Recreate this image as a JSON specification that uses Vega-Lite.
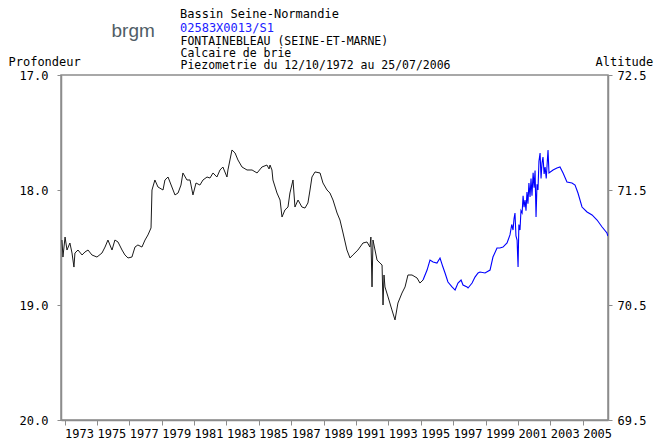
{
  "$schema": "https://vega.github.io/schema/vega-lite/v6.json",
  "width": 547,
  "height": 345,
  "autosize": {"type": "none"},
  "padding": {"left": 61, "top": 75, "right": 50, "bottom": 22},
  "background": "white",
  "config": {
    "view": {"stroke": "#8c8c8c", "strokeWidth": 1.5},
    "font": "DejaVu Sans Mono"
  },
  "title": {
    "text": "Bassin Seine-Normandie",
    "subtitle": "02583X0013/S1",
    "anchor": "start",
    "frame": "group",
    "dx": 119,
    "dy": 16,
    "offset": 2,
    "font": "DejaVu Sans Mono",
    "fontSize": 12,
    "fontWeight": "normal",
    "color": "black",
    "subtitleFont": "DejaVu Sans Mono",
    "subtitleFontSize": 12,
    "subtitleColor": "#2020ff",
    "subtitlePadding": 2
  },
  "data": {
    "values": [
      {"s": "a", "t": 1972.84, "d": 18.435},
      {"s": "a", "t": 1972.90, "d": 18.583},
      {"s": "a", "t": 1973.03, "d": 18.409},
      {"s": "a", "t": 1973.15, "d": 18.522},
      {"s": "a", "t": 1973.33, "d": 18.461},
      {"s": "a", "t": 1973.46, "d": 18.548},
      {"s": "a", "t": 1973.58, "d": 18.670},
      {"s": "a", "t": 1973.64, "d": 18.548},
      {"s": "a", "t": 1973.83, "d": 18.522},
      {"s": "a", "t": 1974.08, "d": 18.565},
      {"s": "a", "t": 1974.26, "d": 18.539},
      {"s": "a", "t": 1974.45, "d": 18.522},
      {"s": "a", "t": 1974.69, "d": 18.565},
      {"s": "a", "t": 1975.00, "d": 18.583},
      {"s": "a", "t": 1975.31, "d": 18.548},
      {"s": "a", "t": 1975.50, "d": 18.496},
      {"s": "a", "t": 1975.68, "d": 18.435},
      {"s": "a", "t": 1975.93, "d": 18.522},
      {"s": "a", "t": 1976.11, "d": 18.435},
      {"s": "a", "t": 1976.30, "d": 18.452},
      {"s": "a", "t": 1976.55, "d": 18.522},
      {"s": "a", "t": 1976.73, "d": 18.565},
      {"s": "a", "t": 1976.92, "d": 18.591},
      {"s": "a", "t": 1977.16, "d": 18.583},
      {"s": "a", "t": 1977.35, "d": 18.496},
      {"s": "a", "t": 1977.53, "d": 18.478},
      {"s": "a", "t": 1977.78, "d": 18.496},
      {"s": "a", "t": 1977.97, "d": 18.435},
      {"s": "a", "t": 1978.15, "d": 18.391},
      {"s": "a", "t": 1978.34, "d": 18.330},
      {"s": "a", "t": 1978.40, "d": 18.000},
      {"s": "a", "t": 1978.58, "d": 17.913},
      {"s": "a", "t": 1978.77, "d": 17.974},
      {"s": "a", "t": 1979.08, "d": 18.000},
      {"s": "a", "t": 1979.20, "d": 17.913},
      {"s": "a", "t": 1979.39, "d": 17.887},
      {"s": "a", "t": 1979.63, "d": 17.974},
      {"s": "a", "t": 1979.82, "d": 18.043},
      {"s": "a", "t": 1980.01, "d": 18.026},
      {"s": "a", "t": 1980.19, "d": 17.957},
      {"s": "a", "t": 1980.31, "d": 17.852},
      {"s": "a", "t": 1980.56, "d": 17.913},
      {"s": "a", "t": 1980.75, "d": 17.913},
      {"s": "a", "t": 1980.93, "d": 18.043},
      {"s": "a", "t": 1981.12, "d": 17.939},
      {"s": "a", "t": 1981.36, "d": 17.957},
      {"s": "a", "t": 1981.55, "d": 17.913},
      {"s": "a", "t": 1981.80, "d": 17.887},
      {"s": "a", "t": 1981.98, "d": 17.896},
      {"s": "a", "t": 1982.17, "d": 17.852},
      {"s": "a", "t": 1982.41, "d": 17.887},
      {"s": "a", "t": 1982.60, "d": 17.826},
      {"s": "a", "t": 1982.78, "d": 17.800},
      {"s": "a", "t": 1983.03, "d": 17.887},
      {"s": "a", "t": 1983.09, "d": 17.826},
      {"s": "a", "t": 1983.34, "d": 17.652},
      {"s": "a", "t": 1983.53, "d": 17.678},
      {"s": "a", "t": 1983.71, "d": 17.739},
      {"s": "a", "t": 1983.96, "d": 17.800},
      {"s": "a", "t": 1984.27, "d": 17.826},
      {"s": "a", "t": 1984.58, "d": 17.826},
      {"s": "a", "t": 1984.89, "d": 17.852},
      {"s": "a", "t": 1985.19, "d": 17.800},
      {"s": "a", "t": 1985.50, "d": 17.783},
      {"s": "a", "t": 1985.63, "d": 17.817},
      {"s": "a", "t": 1985.69, "d": 17.783},
      {"s": "a", "t": 1985.81, "d": 17.826},
      {"s": "a", "t": 1985.87, "d": 17.913},
      {"s": "a", "t": 1986.12, "d": 18.026},
      {"s": "a", "t": 1986.31, "d": 18.087},
      {"s": "a", "t": 1986.43, "d": 18.235},
      {"s": "a", "t": 1986.61, "d": 18.174},
      {"s": "a", "t": 1986.80, "d": 18.148},
      {"s": "a", "t": 1986.92, "d": 18.026},
      {"s": "a", "t": 1987.11, "d": 17.913},
      {"s": "a", "t": 1987.23, "d": 18.148},
      {"s": "a", "t": 1987.42, "d": 18.087},
      {"s": "a", "t": 1987.66, "d": 18.148},
      {"s": "a", "t": 1987.85, "d": 18.157},
      {"s": "a", "t": 1988.03, "d": 18.113},
      {"s": "a", "t": 1988.16, "d": 18.000},
      {"s": "a", "t": 1988.28, "d": 17.887},
      {"s": "a", "t": 1988.47, "d": 17.843},
      {"s": "a", "t": 1988.78, "d": 17.852},
      {"s": "a", "t": 1988.96, "d": 17.939},
      {"s": "a", "t": 1989.21, "d": 18.000},
      {"s": "a", "t": 1989.39, "d": 18.026},
      {"s": "a", "t": 1989.58, "d": 18.087},
      {"s": "a", "t": 1989.83, "d": 18.200},
      {"s": "a", "t": 1990.01, "d": 18.261},
      {"s": "a", "t": 1990.20, "d": 18.374},
      {"s": "a", "t": 1990.44, "d": 18.522},
      {"s": "a", "t": 1990.63, "d": 18.591},
      {"s": "a", "t": 1990.81, "d": 18.565},
      {"s": "a", "t": 1991.12, "d": 18.522},
      {"s": "a", "t": 1991.43, "d": 18.461},
      {"s": "a", "t": 1991.68, "d": 18.452},
      {"s": "a", "t": 1991.86, "d": 18.496},
      {"s": "a", "t": 1991.92, "d": 18.409},
      {"s": "a", "t": 1991.99, "d": 18.843},
      {"s": "a", "t": 1992.05, "d": 18.435},
      {"s": "a", "t": 1992.30, "d": 18.609},
      {"s": "a", "t": 1992.48, "d": 18.635},
      {"s": "a", "t": 1992.61, "d": 18.652},
      {"s": "a", "t": 1992.67, "d": 19.000},
      {"s": "a", "t": 1992.73, "d": 18.739},
      {"s": "a", "t": 1992.79, "d": 18.843},
      {"s": "a", "t": 1992.98, "d": 18.930},
      {"s": "a", "t": 1993.22, "d": 19.043},
      {"s": "a", "t": 1993.41, "d": 19.130},
      {"s": "a", "t": 1993.59, "d": 18.983},
      {"s": "a", "t": 1993.84, "d": 18.896},
      {"s": "a", "t": 1994.03, "d": 18.843},
      {"s": "a", "t": 1994.21, "d": 18.739},
      {"s": "a", "t": 1994.46, "d": 18.739},
      {"s": "a", "t": 1994.77, "d": 18.765},
      {"s": "a", "t": 1994.95, "d": 18.809},
      {"s": "a", "t": 1995.14, "d": 18.783},
      {"s": "b", "t": 1995.14, "d": 18.783},
      {"s": "b", "t": 1995.39, "d": 18.696},
      {"s": "b", "t": 1995.57, "d": 18.609},
      {"s": "b", "t": 1995.76, "d": 18.626},
      {"s": "b", "t": 1996.00, "d": 18.635},
      {"s": "b", "t": 1996.19, "d": 18.591},
      {"s": "b", "t": 1996.37, "d": 18.670},
      {"s": "b", "t": 1996.50, "d": 18.722},
      {"s": "b", "t": 1996.68, "d": 18.800},
      {"s": "b", "t": 1996.93, "d": 18.843},
      {"s": "b", "t": 1997.12, "d": 18.870},
      {"s": "b", "t": 1997.30, "d": 18.809},
      {"s": "b", "t": 1997.49, "d": 18.783},
      {"s": "b", "t": 1997.61, "d": 18.826},
      {"s": "b", "t": 1997.86, "d": 18.843},
      {"s": "b", "t": 1997.92, "d": 18.852},
      {"s": "b", "t": 1998.17, "d": 18.809},
      {"s": "b", "t": 1998.35, "d": 18.757},
      {"s": "b", "t": 1998.54, "d": 18.722},
      {"s": "b", "t": 1998.66, "d": 18.713},
      {"s": "b", "t": 1998.97, "d": 18.722},
      {"s": "b", "t": 1999.28, "d": 18.696},
      {"s": "b", "t": 1999.46, "d": 18.583},
      {"s": "b", "t": 1999.71, "d": 18.504},
      {"s": "b", "t": 1999.89, "d": 18.504},
      {"s": "b", "t": 2000.08, "d": 18.496},
      {"s": "b", "t": 2000.33, "d": 18.461},
      {"s": "b", "t": 2000.51, "d": 18.391},
      {"s": "b", "t": 2000.62, "d": 18.300},
      {"s": "b", "t": 2000.70, "d": 18.348},
      {"s": "b", "t": 2000.76, "d": 18.250},
      {"s": "b", "t": 2000.82, "d": 18.200},
      {"s": "b", "t": 2000.88, "d": 18.400},
      {"s": "b", "t": 2000.95, "d": 18.435},
      {"s": "b", "t": 2001.01, "d": 18.670},
      {"s": "b", "t": 2001.06, "d": 18.300},
      {"s": "b", "t": 2001.13, "d": 18.348},
      {"s": "b", "t": 2001.19, "d": 18.180},
      {"s": "b", "t": 2001.26, "d": 18.200},
      {"s": "b", "t": 2001.32, "d": 18.050},
      {"s": "b", "t": 2001.38, "d": 18.150},
      {"s": "b", "t": 2001.44, "d": 18.087},
      {"s": "b", "t": 2001.50, "d": 18.180},
      {"s": "b", "t": 2001.56, "d": 18.017},
      {"s": "b", "t": 2001.62, "d": 18.120},
      {"s": "b", "t": 2001.68, "d": 17.940},
      {"s": "b", "t": 2001.75, "d": 18.060},
      {"s": "b", "t": 2001.81, "d": 17.900},
      {"s": "b", "t": 2001.87, "d": 18.050},
      {"s": "b", "t": 2001.94, "d": 17.850},
      {"s": "b", "t": 2002.00, "d": 17.980},
      {"s": "b", "t": 2002.06, "d": 17.830},
      {"s": "b", "t": 2002.12, "d": 18.235},
      {"s": "b", "t": 2002.18, "d": 17.950},
      {"s": "b", "t": 2002.24, "d": 18.000},
      {"s": "b", "t": 2002.30, "d": 17.750},
      {"s": "b", "t": 2002.37, "d": 17.678},
      {"s": "b", "t": 2002.43, "d": 17.900},
      {"s": "b", "t": 2002.49, "d": 17.765},
      {"s": "b", "t": 2002.55, "d": 17.713},
      {"s": "b", "t": 2002.62, "d": 17.860},
      {"s": "b", "t": 2002.68, "d": 17.800},
      {"s": "b", "t": 2002.75, "d": 17.900},
      {"s": "b", "t": 2002.86, "d": 17.652},
      {"s": "b", "t": 2002.92, "d": 17.852},
      {"s": "b", "t": 2003.17, "d": 17.826},
      {"s": "b", "t": 2003.41, "d": 17.809},
      {"s": "b", "t": 2003.60, "d": 17.800},
      {"s": "b", "t": 2003.79, "d": 17.852},
      {"s": "b", "t": 2004.03, "d": 17.930},
      {"s": "b", "t": 2004.34, "d": 17.939},
      {"s": "b", "t": 2004.53, "d": 17.957},
      {"s": "b", "t": 2004.71, "d": 18.026},
      {"s": "b", "t": 2004.96, "d": 18.148},
      {"s": "b", "t": 2005.27, "d": 18.191},
      {"s": "b", "t": 2005.58, "d": 18.217},
      {"s": "b", "t": 2005.89, "d": 18.261},
      {"s": "b", "t": 2006.20, "d": 18.322},
      {"s": "b", "t": 2006.50, "d": 18.374},
      {"s": "b", "t": 2006.56, "d": 18.400}
    ]
  },
  "layer": [
    {
      "transform": [{"filter": "datum.s == 'a'"}],
      "mark": {"type": "line", "color": "#1a1a1a", "strokeWidth": 1, "clip": true},
      "encoding": {
        "x": {
          "field": "t", "type": "quantitative",
          "scale": {"domain": [1972.78, 2006.565], "nice": false, "zero": false},
          "axis": {
            "orient": "bottom",
            "values": [1973, 1975, 1977, 1979, 1981, 1983, 1985, 1987, 1989, 1991, 1993, 1995, 1997, 1999, 2001, 2003, 2005],
            "format": "d",
            "labelAlign": "left",
            "labelBaseline": "top",
            "labelPadding": 3,
            "labelFont": "DejaVu Sans Mono",
            "labelFontSize": 12,
            "labelColor": "black",
            "labelOverlap": false,
            "labelFlush": false,
            "tickSize": 5,
            "tickColor": "#8c8c8c",
            "domainColor": "#8c8c8c",
            "domainWidth": 1.5,
            "grid": false,
            "title": "brgm",
            "titleFont": "Liberation Sans",
            "titleFontSize": 19,
            "titleFontWeight": "normal",
            "titleColor": "#4f5d66",
            "titleAngle": 0,
            "titleAlign": "left",
            "titleBaseline": "alphabetic",
            "titleX": 50,
            "titleY": -384
          }
        },
        "y": {
          "field": "d", "type": "quantitative",
          "scale": {"domain": [17, 20], "reverse": true, "nice": false, "zero": false},
          "axis": {
            "orient": "left",
            "values": [17, 18, 19, 20],
            "format": ".1f",
            "labelFont": "DejaVu Sans Mono",
            "labelFontSize": 12,
            "labelColor": "black",
            "labelPadding": 9,
            "tickSize": 4,
            "tickColor": "#8c8c8c",
            "domainColor": "#8c8c8c",
            "domainWidth": 1.5,
            "grid": false,
            "title": "Profondeur",
            "titleFont": "DejaVu Sans Mono",
            "titleFontSize": 12,
            "titleFontWeight": "normal",
            "titleColor": "black",
            "titleAngle": 0,
            "titleAlign": "left",
            "titleBaseline": "middle",
            "titleX": -53,
            "titleY": -14
          }
        }
      }
    },
    {
      "transform": [{"filter": "datum.s == 'b'"}],
      "mark": {"type": "line", "color": "#0000ff", "strokeWidth": 1.1, "clip": true},
      "encoding": {
        "x": {
          "field": "t", "type": "quantitative",
          "axis": {
            "orient": "top",
            "labels": false,
            "ticks": false,
            "domain": false,
            "grid": false,
            "title": ["FONTAINEBLEAU (SEINE-ET-MARNE)", "Calcaire de brie", "Piezometrie du 12/10/1972 au 25/07/2006"],
            "titleFont": "DejaVu Sans Mono",
            "titleFontSize": 11.5,
            "titleFontWeight": "normal",
            "titleColor": "black",
            "titleLineHeight": 12,
            "titleAngle": 0,
            "titleAlign": "left",
            "titleBaseline": "top",
            "titleX": 119,
            "titleY": -40
          }
        },
        "y": {
          "field": "d", "type": "quantitative",
          "axis": {
            "orient": "right",
            "values": [17, 18, 19, 20],
            "labelExpr": "format(89.5 - datum.value, '.1f')",
            "labelFont": "DejaVu Sans Mono",
            "labelFontSize": 12,
            "labelColor": "black",
            "labelPadding": 5,
            "tickSize": 4,
            "tickColor": "#8c8c8c",
            "domainColor": "#8c8c8c",
            "domainWidth": 1.5,
            "grid": false,
            "title": "Altitude",
            "titleFont": "DejaVu Sans Mono",
            "titleFontSize": 12,
            "titleFontWeight": "normal",
            "titleColor": "black",
            "titleAngle": 0,
            "titleAlign": "left",
            "titleBaseline": "middle",
            "titleX": -13,
            "titleY": -14
          }
        }
      }
    }
  ],
  "resolve": {"axis": {"x": "independent", "y": "independent"}}
}
